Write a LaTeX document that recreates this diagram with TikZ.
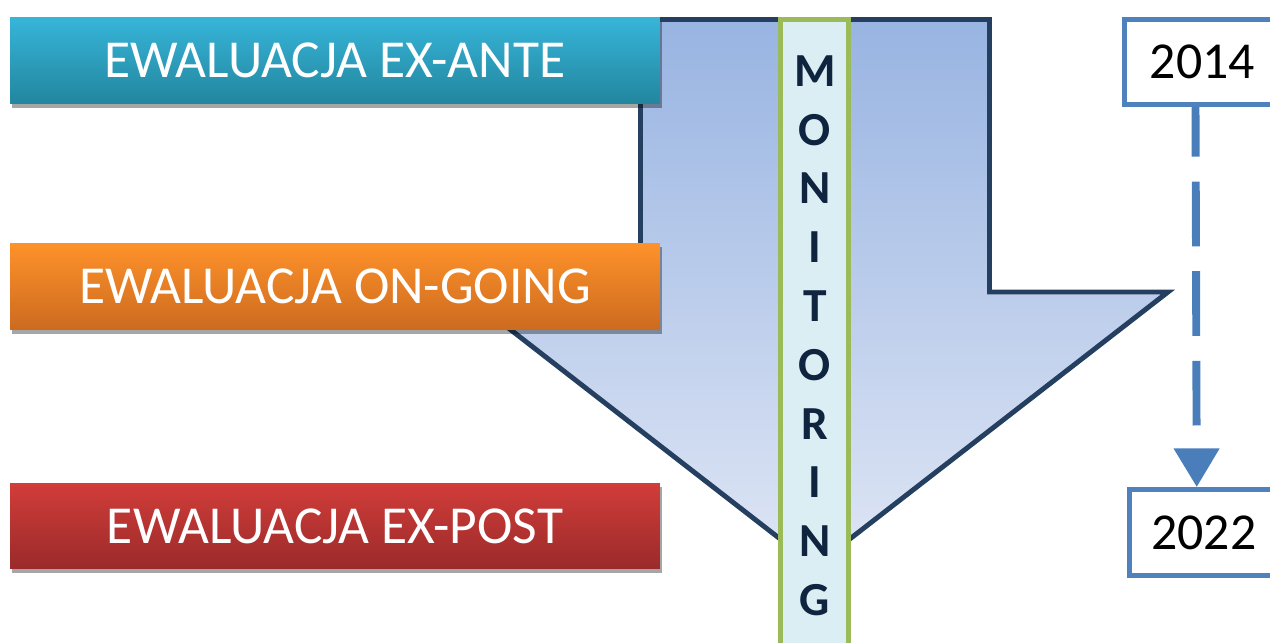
\documentclass[tikz,border=0pt]{standalone}
\usepackage{fontspec}
\setmainfont{Carlito}
\usetikzlibrary{shadows,arrows.meta,calc}

\definecolor{anteTop}{HTML}{37B5D9}
\definecolor{anteBot}{HTML}{22869E}
\definecolor{goingTop}{HTML}{FE922A}
\definecolor{goingBot}{HTML}{CC6A1F}
\definecolor{postTop}{HTML}{D13D3A}
\definecolor{postBot}{HTML}{9A2A2A}
\definecolor{arrowTop}{HTML}{98B4E2}
\definecolor{arrowBot}{HTML}{DFE6F5}
\definecolor{arrowLine}{HTML}{243F60}
\definecolor{barFill}{HTML}{DBEEF4}
\definecolor{barLine}{HTML}{9BBB59}
\definecolor{letterCol}{HTML}{0F243E}
\definecolor{yearLine}{HTML}{4F81BD}
\definecolor{dashBlue}{HTML}{4A7EBB}

\tikzset{
  banner/.style={shape=rectangle,minimum width=13cm,minimum height=1.72cm,inner sep=0pt,text=white,
    font=\fontsize{30.4}{31}\selectfont,
    drop shadow={shadow xshift=1pt,shadow yshift=-2.5pt,opacity=0.35,fill=black}},
  yearbox/.style={shape=rectangle,draw=yearLine,line width=2.8pt,fill=white,inner sep=0pt,
    font=\fontsize{29.5}{30}\selectfont},
  letter/.style={text=letterCol,inner sep=0pt,font=\fontsize{27}{27}\selectfont\bfseries},
}

\begin{document}
\begin{tikzpicture}[x=0.02cm,y=-0.02cm]
  \useasboundingbox (0,0) rectangle (1270,642);
  \clip (0,0) rectangle (1270,642);
  \draw[line width=2.8pt,draw=arrowLine,top color=arrowTop,bottom color=arrowBot]
    (640.5,19.5) -- (989.5,19.5) -- (989.5,292) -- (1168,292) -- (815,566) -- (462,292) -- (640.5,292) -- cycle;
  \node[banner,top color=anteTop,bottom color=anteBot] (ante) at (335,60.5) {EWALUACJA EX-ANTE};
  \node[banner,top color=goingTop,bottom color=goingBot,minimum height=1.74cm] (going) at (335,286.5) {EWALUACJA ON-GOING};
  \node[banner,top color=postTop,bottom color=postBot] (post) at (335,526) {EWALUACJA EX-POST};
  \draw[draw=barLine,fill=barFill,line width=2.8pt] (780.5,19.5) rectangle (848.5,660);
  \foreach \l [count=\i] in {M,O,N,I,T,O,R,I,N,G}
    \node[letter] (l\i) at (815,12.2+58.8*\i) {\l};
  \node[yearbox,minimum width=3.12cm,minimum height=1.7cm] (y2014) at (1202.5,62) {2014};
  \node[yearbox,minimum width=2.97cm,minimum height=1.72cm] (y2022) at (1203.75,532.5) {2022};
  \draw[draw=dashBlue,line width=4.5pt,dash pattern=on 36.8pt off 14.2pt,dash phase=8.5pt,
    -{Triangle[length=22pt,width=25pt]}] ($(y2014.south)+(-7,0)$) -- ($(y2022.north)+(-7,0)$);
\end{tikzpicture}
\end{document}
